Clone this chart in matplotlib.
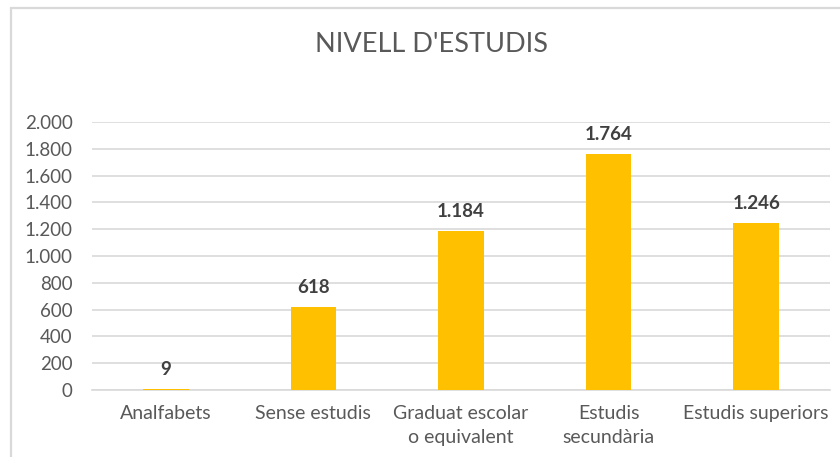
import matplotlib
matplotlib.use("Agg")
import matplotlib.pyplot as plt
from matplotlib.patches import Rectangle
from matplotlib.ticker import FuncFormatter

categories = ["Analfabets", "Sense estudis", "Graduat escolar\no equivalent",
              "Estudis\nsecundària", "Estudis superiors"]
values = [9, 618, 1184, 1764, 1246]
yticks = [0, 200, 400, 600, 800, 1000, 1200, 1400, 1600, 1800, 2000]
title = "NIVELL D'ESTUDIS"

plt.rcParams['font.family'] = ['Lato', 'DejaVu Sans']

def fmt(v):
    return f"{int(v):,}".replace(",", ".")

W, H = 840, 457
fig = plt.figure(figsize=(W / 100, H / 100), dpi=100)
fig.patch.set_facecolor("white")

# chart frame
fig.patches.append(Rectangle((11 / W, -0.1), 2.0, 1 - 8 / H + 0.1,
                             transform=fig.transFigure, fill=False,
                             edgecolor="#d9d9d9", linewidth=1.6, zorder=0))

ax = fig.add_axes([92 / W, 1 - 390 / H, (830 - 92) / W, (390 - 122) / H])
x = list(range(len(categories)))
ax.bar(x, values, width=0.31, color="#ffc000", zorder=3)
ax.set_xlim(-0.5, len(categories) - 0.5)
ax.set_ylim(0, 2000)
ax.set_yticks(yticks)
ax.yaxis.set_major_formatter(FuncFormatter(lambda v, p: fmt(v)))
ax.grid(axis="y", color="#d9d9d9", linewidth=1.2, zorder=0)
for s in ["top", "right", "left"]:
    ax.spines[s].set_visible(False)
ax.spines["bottom"].set_color("#d9d9d9")
ax.spines["bottom"].set_linewidth(1.2)
ax.set_xticks(x)
ax.set_xticklabels(categories, linespacing=1.45)
ax.tick_params(axis="both", length=0, labelcolor="#595959")
ax.tick_params(axis="y", pad=14, labelsize=13.5)
ax.tick_params(axis="x", pad=11, labelsize=14)

for xi, v in zip(x, values):
    ax.annotate(fmt(v), (xi, v), xytext=(0, 8), textcoords="offset points",
                ha="center", va="bottom", fontsize=13.5, fontweight="bold",
                color="#404040")

fig.text(432 / W, 1 - 45 / H, title, ha="center", va="center",
         fontsize=19.5, color="#595959")

fig.savefig("out.png", dpi=100)
